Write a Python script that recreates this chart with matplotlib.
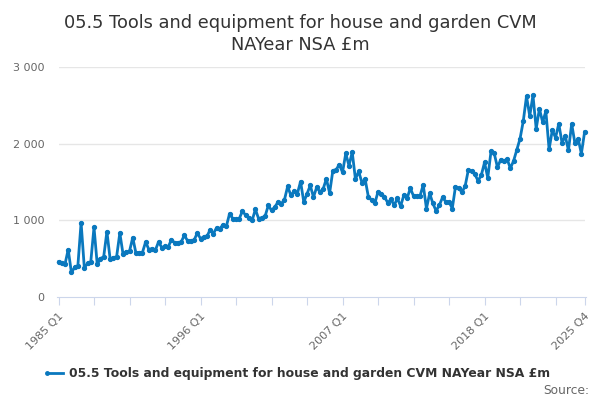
import matplotlib
matplotlib.use("Agg")
import matplotlib.pyplot as plt
import numpy as np

# quarterly values, 1985 Q1 .. 2025 Q4 (GBP m)
values_1985_1997 = [
    459, 437, 425, 619, 320, 385, 407, 970, 381, 437, 459, 909,
    425, 502, 524, 853, 494, 515, 524, 835, 558, 589, 597, 775,
    571, 580, 580, 719, 619, 632, 610, 719, 645, 662, 654, 749,
    706, 706, 719, 805, 732, 727, 740, 835, 762, 784, 792, 879,
    827, 905, 892, 944,
]
values_1998_2010 = [
    922, 1087, 1022, 1013, 1022, 1121, 1065, 1035, 1000, 1143, 1022, 1035,
    1052, 1195, 1130, 1173, 1238, 1217, 1268, 1442, 1325, 1381, 1347, 1506,
    1238, 1347, 1455, 1303, 1433, 1368, 1411, 1541, 1355, 1650, 1660, 1727,
    1626, 1872, 1714, 1890, 1537, 1639, 1493, 1537, 1308, 1264, 1220, 1374,
    1344, 1308, 1229, 1273,
]
values_2011_2025 = [
    1198, 1286, 1185, 1330, 1286, 1419, 1317, 1317, 1317, 1463, 1154, 1352,
    1220, 1123, 1198, 1300, 1242, 1242, 1154, 1441, 1419, 1366, 1449, 1661,
    1640, 1600, 1515, 1590, 1755, 1555, 1898, 1873, 1692, 1790, 1775, 1797,
    1680, 1775, 1918, 2065, 2294, 2619, 2359, 2632, 2195, 2455, 2281, 2424,
    1926, 2177, 2078, 2260, 2013, 2100, 1913, 2260, 2004, 2065, 1870, 2152,
]
values = values_1985_1997 + values_1998_2010 + values_2011_2025

tick_pos = [0, 11, 22, 33, 44, 55, 66, 77, 88, 99, 110, 121, 132, 143, 154, 163]
tick_labels = ["1985 Q1", "", "", "", "1996 Q1", "", "", "", "2007 Q1",
               "", "", "", "2018 Q1", "", "", "2025 Q4"]
y_ticks = [0, 1000, 2000, 3000]
y_labels = ["0", "1 000", "2 000", "3 000"]

series_name = "05.5 Tools and equipment for house and garden CVM NAYear NSA £m"
line_color = "#0a78be"

fig = plt.figure(figsize=(6, 4), dpi=100)
ax = fig.add_axes([58.5 / 600, 1 - 297 / 400, (584.6 - 58.5) / 600, (297 - 67) / 400])

x = np.arange(len(values))
ax.plot(x, values, color=line_color, linewidth=2, marker="o", markersize=2.8,
        zorder=3, clip_on=False)

ax.set_xlim(0, len(values) - 1)
ax.set_ylim(0, 3000)

for s in ["top", "right", "left"]:
    ax.spines[s].set_visible(False)
ax.spines["bottom"].set_color("#ccd6eb")
ax.spines["bottom"].set_bounds(-0.5, len(values) - 0.5)

ax.set_yticks(y_ticks)
ax.set_yticklabels(y_labels, color="#666666", fontsize=8)
ax.tick_params(axis="y", length=0, pad=10)
for yv in y_ticks[1:]:
    ax.axhline(yv, color="#e6e6e6", linewidth=1, zorder=1)

ax.set_xticks(tick_pos)
ax.set_xticklabels(tick_labels, rotation=45, ha="right", rotation_mode="anchor",
                   color="#666666", fontsize=8)
ax.tick_params(axis="x", length=6, color="#ccd6eb", pad=4)

fig.text(0.5, 0.965, "05.5 Tools and equipment for house and garden CVM\nNAYear NSA £m",
         ha="center", va="top", fontsize=12.8, color="#333333", linespacing=1.3)

# legend
leg_y = 1 - 373 / 400
fig.lines.append(plt.Line2D([47 / 600, 63 / 600], [leg_y, leg_y],
                            transform=fig.transFigure, color=line_color, linewidth=2,
                            marker="o", markersize=2.5, markevery=[0]))
fig.text(69 / 600, leg_y, series_name, ha="left", va="center",
         fontsize=8.9, fontweight="bold", color="#333333")
fig.text(589 / 600, 1 - 390 / 400, "Source:", ha="right", va="center",
         fontsize=8.8, color="#666666")

fig.savefig("out.png", dpi=100)
